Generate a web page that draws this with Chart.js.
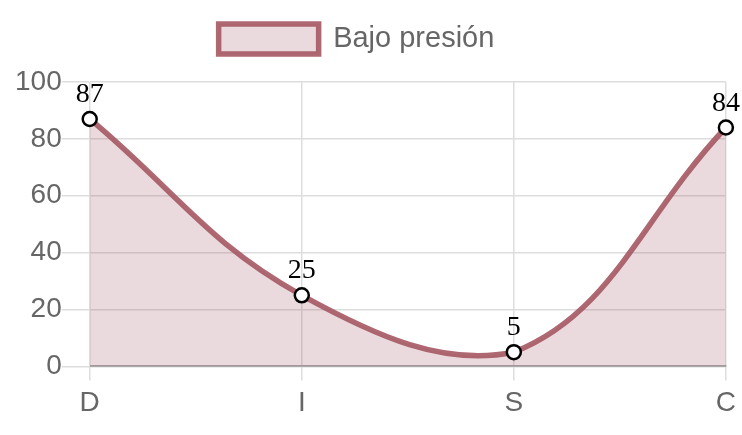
<!DOCTYPE html>
<html lang="es">
<head>
    <meta charset="UTF-8">
    <title>Bajo presión</title>
    <script src="https://cdn.jsdelivr.net/npm/chart.js"></script>
    <style>
        body { margin: 0; background: #fff; }
        canvas { display: block; }
    </style>
</head>
<body>
    <canvas id="discChart" width="742" height="435"></canvas>

    <script>
        const categories = ['D', 'I', 'S', 'C'];
        const seriesLabel = 'Bajo presión';
        const seriesValues = [87, 25, 5, 84];
        const yTicks = [0, 20, 40, 60, 80, 100];

        const sans = '"Liberation Sans", Arial, sans-serif';

        // draws the value above each point
        const valueLabels = {
            id: 'valueLabels',
            afterDatasetsDraw(chart) {
                const ctx = chart.ctx;
                const meta = chart.getDatasetMeta(0);
                ctx.save();
                ctx.font = '28px "Liberation Serif", serif';
                ctx.fillStyle = '#000';
                ctx.textAlign = 'center';
                ctx.textBaseline = 'alphabetic';
                meta.data.forEach((pt, i) => {
                    ctx.fillText(chart.data.datasets[0].data[i], pt.x, pt.y - 17);
                });
                ctx.restore();
            }
        };

        // extra room under the legend, legend sits a bit left of centre
        const legendSpace = {
            id: 'legendSpace',
            beforeInit(chart) {
                const fit = chart.legend.fit;
                chart.legend.fit = function () {
                    fit.call(this);
                    this.height += 18;
                };
            },
            afterLayout(chart) {
                chart.legend.left -= 14;
                chart.legend.right -= 14;
            }
        };

        const ctx = document.getElementById('discChart').getContext('2d');
        new Chart(ctx, {
            type: 'line',
            data: {
                labels: categories,
                datasets: [{
                    label: seriesLabel,
                    data: seriesValues,
                    borderColor: 'rgba(165, 88, 98, 0.9)',
                    backgroundColor: 'rgba(165, 88, 98, 0.22)',
                    borderWidth: 5.5,
                    fill: true,
                    tension: 0.4,
                    pointRadius: 7,
                    pointBorderWidth: 2.5,
                    pointBackgroundColor: '#fff',
                    pointBorderColor: '#000'
                }]
            },
            options: {
                responsive: false,
                animation: false,
                layout: { padding: { left: 15, right: 16, top: 10, bottom: 9 } },
                plugins: {
                    legend: {
                        labels: {
                            font: { size: 29, family: sans },
                            color: '#666',
                            boxWidth: 100,
                            boxHeight: 30,
                            padding: 14
                        }
                    },
                    tooltip: { enabled: false }
                },
                scales: {
                    x: {
                        grid: { color: '#ddd', lineWidth: 1.5, tickLength: 14 },
                        border: { color: '#aaa', width: 2 },
                        ticks: {
                            font: { size: 28, family: sans },
                            color: '#666',
                            padding: 6
                        }
                    },
                    y: {
                        min: 0,
                        max: 100,
                        afterBuildTicks: axis => { axis.ticks = yTicks.map(v => ({ value: v })); },
                        grid: { color: '#ddd', lineWidth: 1.5, tickLength: 28 },
                        border: { color: '#ddd' },
                        ticks: {
                            font: { size: 28, family: sans },
                            color: '#666',
                            padding: 0
                        }
                    }
                }
            },
            plugins: [valueLabels, legendSpace]
        });
    </script>
</body>
</html>
